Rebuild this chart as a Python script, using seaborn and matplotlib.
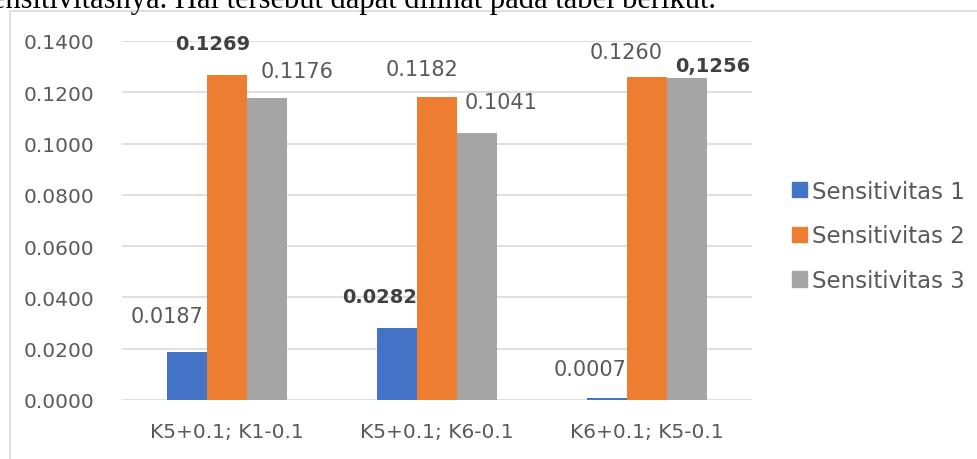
import numpy as np
import pandas as pd
import matplotlib
matplotlib.use("Agg")
import matplotlib.pyplot as plt
import seaborn as sns
from matplotlib.patches import Rectangle

# data
categories = ["K5+0.1; K1-0.1", "K5+0.1; K6-0.1", "K6+0.1; K5-0.1"]
series = ["Sensitivitas 1", "Sensitivitas 2", "Sensitivitas 3"]
sens1 = [0.0187, 0.0282, 0.0007]
sens2 = [0.1269, 0.1182, 0.1260]
sens3 = [0.1176, 0.1041, 0.1256]
labels1 = ["0.0187", "0.0282", "0.0007"]
labels2 = ["0.1269", "0.1182", "0.1260"]
labels3 = ["0.1176", "0.1041", "0,1256"]
bold1 = [False, True, False]
bold2 = [True, False, False]
bold3 = [False, False, True]

df = pd.DataFrame({
    "cat": categories * 3,
    "series": [series[0]] * 3 + [series[1]] * 3 + [series[2]] * 3,
    "value": sens1 + sens2 + sens3,
})

sns.set_style("white")
plt.rcParams["font.family"] = ["DejaVu Sans"]
colors = ["#4472C4", "#ED7D31", "#A5A5A5"]
grey = "#595959"

fig = plt.figure(figsize=(9.78, 4.6), dpi=100)
ax = fig.add_axes([122 / 978, 1 - 401 / 460, 630 / 978, 359 / 460])

sns.barplot(data=df, x="cat", y="value", hue="series", palette=colors,
            width=0.576, gap=0, saturation=1, linewidth=0, ax=ax, legend=False)

ax.set_ylim(0, 0.14)
ax.set_xlim(-0.5, 2.5)
ticks = np.arange(0, 0.1401, 0.02)
ax.set_yticks(ticks)
ax.set_yticklabels([f"{v:.4f}" for v in ticks])
ax.yaxis.grid(True, color="#d9d9d9", lw=1.2)
ax.set_axisbelow(True)
for s in ax.spines.values():
    s.set_visible(False)
ax.tick_params(axis="both", length=0, labelsize=14.5, colors=grey)
ax.tick_params(axis="y", pad=20)
ax.tick_params(axis="x", pad=16)
ax.set_xlabel("")
ax.set_ylabel("")

# data labels, shifted like the original (pixels from bar top centre)
all_labels = [labels1, labels2, labels3]
all_bold = [bold1, bold2, bold3]
offsets = [
    [(-20, 36), (-17, 31), (-17, 29)],
    [(-14, 31), (-15, 28), (-21, 25)],
    [(30, 27), (24, 31), (25, 12)],
]
for i, cont in enumerate(ax.containers):
    for j, bar in enumerate(cont):
        x = bar.get_x() + bar.get_width() / 2
        y = bar.get_height()
        b = all_bold[i][j]
        ax.annotate(all_labels[i][j], (x, y), xytext=offsets[i][j],
                    textcoords="offset pixels", ha="center", va="center",
                    fontsize=14 if b else 15, color="#404040" if b else grey,
                    fontweight="bold" if b else "normal",
                    annotation_clip=False)

# legend
handles = [Rectangle((0, 0), 1, 1, color=c) for c in colors]
leg = fig.legend(handles, series, loc="upper left",
                 bbox_to_anchor=(771 / 978, 1 - 160 / 460), frameon=False,
                 fontsize=16.5, handlelength=0.66, handleheight=0.66,
                 handletextpad=0.25, labelspacing=0.95)
for t in leg.get_texts():
    t.set_color(grey)

# chart frame and the cut-off line of body text above it
fig.patches.append(Rectangle((10 / 978, -0.1), 1.1, 1 - 12 / 460 + 0.1,
                             transform=fig.transFigure, fill=False,
                             edgecolor="#d9d9d9", lw=1.2))
prefix = "sensitivitasnya. "
body = prefix + "Hal tersebut dapat dilihat pada tabel berikut."
tmp = fig.text(0, 0, prefix.strip() + "_", family="Liberation Serif", fontsize=22)
fig.canvas.draw()
pw = tmp.get_window_extent().width
tmp.remove()
fig.text((182 - pw) / 978, 1 - 8 / 460, body,
         family="Liberation Serif", fontsize=22, color="black", va="baseline")

fig.savefig("out.png", dpi=100)
